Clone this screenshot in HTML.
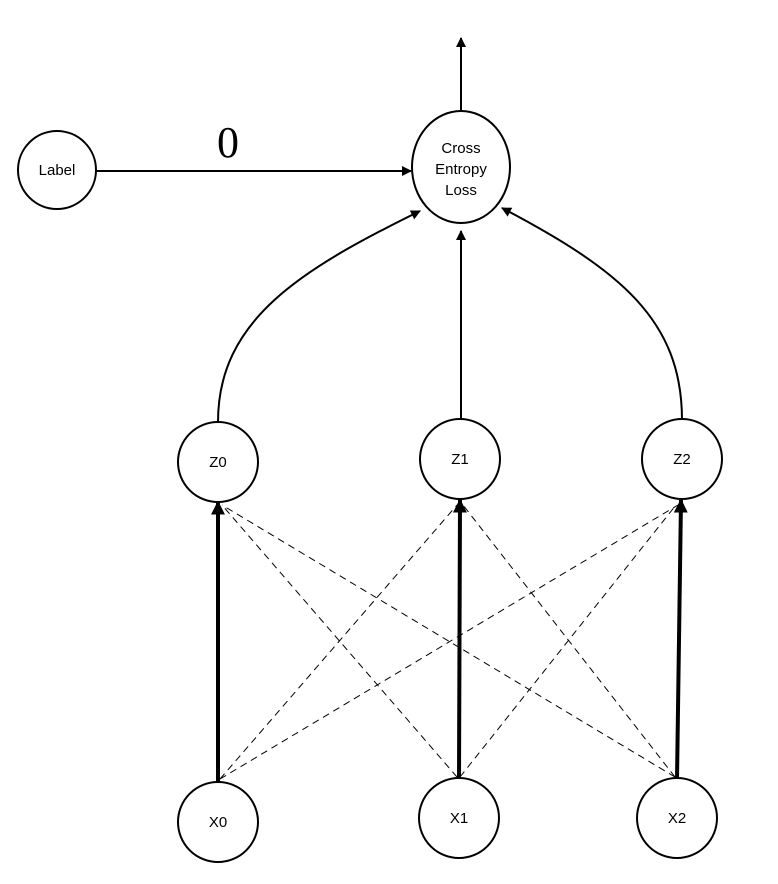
<!DOCTYPE html>
<html><head><meta charset="utf-8"><style>body{margin:0;background:#fff}</style></head><body>
<svg width="778" height="884" xmlns="http://www.w3.org/2000/svg" style="display:block">
<defs>
<marker id="a" markerWidth="10" markerHeight="10" refX="9" refY="5" orient="auto" markerUnits="userSpaceOnUse" viewBox="0 0 10 10"><path d="M0,0 L10,5 L0,10 z" fill="#000"/></marker>
<marker id="b" markerWidth="14" markerHeight="14" refX="9" refY="5" orient="auto" markerUnits="userSpaceOnUse" viewBox="0 0 10 10"><path d="M0,0 L10,5 L0,10 z" fill="#000"/></marker>
</defs>
<g fill="none" stroke="#000">
<line x1="461" y1="110" x2="461" y2="38" stroke-width="2" marker-end="url(#a)"/>
<line x1="97" y1="171" x2="411" y2="171" stroke-width="2" marker-end="url(#a)"/>
<path d="M218,422 C218,320 300,270 420,211" stroke-width="2" marker-end="url(#a)"/>
<line x1="461" y1="420" x2="461" y2="231" stroke-width="2" marker-end="url(#a)"/>
<path d="M682,420 C682,320 620,270 502,208" stroke-width="2" marker-end="url(#a)"/>
<g stroke-width="1" stroke-dasharray="7,5">
<line x1="220" y1="779" x2="457" y2="505"/>
<line x1="220" y1="779" x2="678" y2="505"/>
<line x1="457" y1="777" x2="222" y2="505"/>
<line x1="460" y1="777" x2="676" y2="505"/>
<line x1="675" y1="777" x2="222" y2="505"/>
<line x1="675" y1="777" x2="463" y2="505"/>
</g>
<line x1="218" y1="782" x2="218" y2="502" stroke-width="4" marker-end="url(#b)"/>
<line x1="459" y1="779" x2="460" y2="500" stroke-width="4" marker-end="url(#b)"/>
<line x1="677" y1="779" x2="681" y2="500" stroke-width="4" marker-end="url(#b)"/>
</g>
<g fill="#fff" stroke="#000" stroke-width="2">
<circle cx="57" cy="170" r="39"/>
<ellipse cx="461" cy="167" rx="49" ry="56"/>
<circle cx="218" cy="462" r="40"/>
<circle cx="460" cy="459" r="40"/>
<circle cx="682" cy="459" r="40"/>
<circle cx="218" cy="822" r="40"/>
<circle cx="459" cy="818" r="40"/>
<circle cx="677" cy="818" r="40"/>
</g>
<g font-family="Liberation Sans, sans-serif" font-size="15" text-anchor="middle" fill="#000">
<text x="57" y="175">Label</text>
<text x="461" y="153">Cross</text>
<text x="461" y="174">Entropy</text>
<text x="461" y="195">Loss</text>
<text x="218" y="467">Z0</text>
<text x="460" y="464">Z1</text>
<text x="682" y="464">Z2</text>
<text x="218" y="827">X0</text>
<text x="459" y="823">X1</text>
<text x="677" y="823">X2</text>
</g>
<text x="228" y="157" font-family="Liberation Serif, serif" font-size="44" text-anchor="middle">0</text>
</svg>
</body></html>
